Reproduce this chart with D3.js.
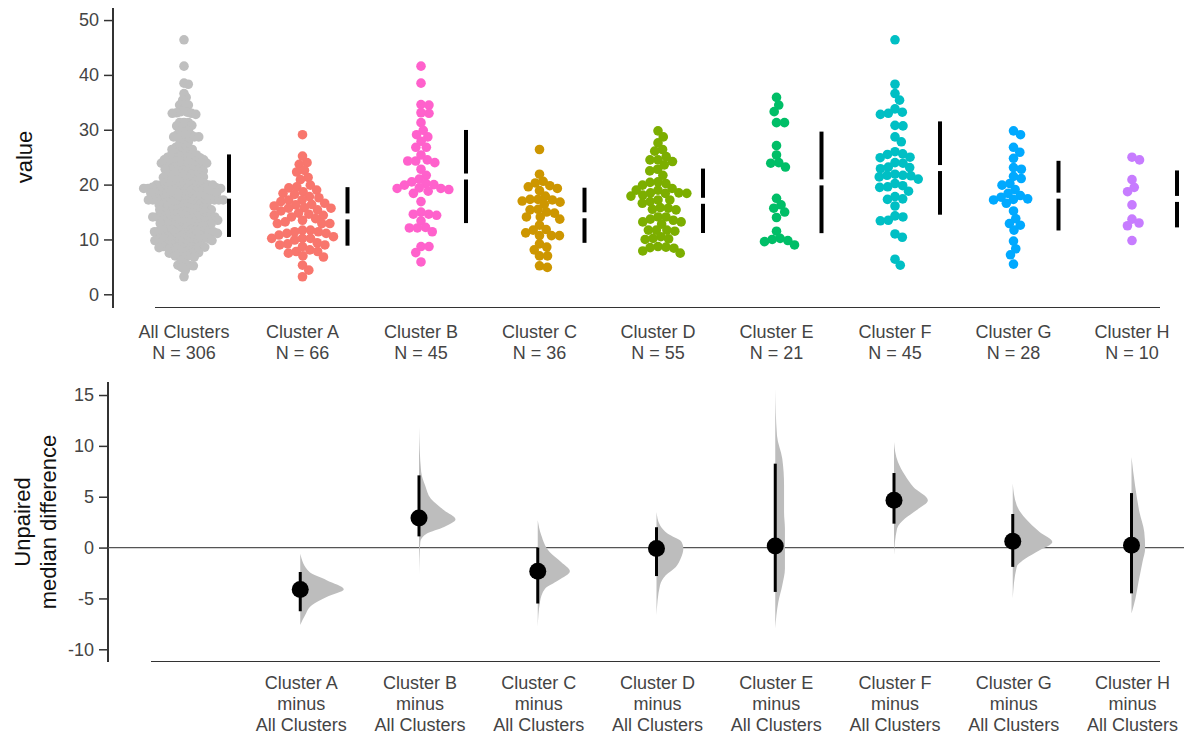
<!DOCTYPE html>
<html>
<head>
<meta charset="UTF-8">
<title>Estimation plot</title>
<script src="https://cdnjs.cloudflare.com/ajax/libs/d3/7.8.5/d3.min.js"></script>
<style>
  body { margin: 0; background: #fff; }
  svg text { font-family: "Liberation Sans", Arial, sans-serif; }
</style>
</head>
<body>
<script>
// ---- data ----
var clusterNames = ["Cluster A", "Cluster B", "Cluster C", "Cluster D", "Cluster E", "Cluster F", "Cluster G", "Cluster H"];
var controlName = "All Clusters";

var clusterA = [29.1, 25.2, 24.0, 23.7, 22.3, 22.6, 21.3, 20.9, 19.6, 19.9, 19.4, 19.0, 18.7, 18.4, 16.9, 17.2, 17.2, 16.6, 16.1, 15.7,
  15.8, 15.7, 14.4, 14.4, 12.9, 13.2, 13.5, 14.1, 12.9, 12.9, 11.1, 11.4, 11.7, 11.4, 11.1, 11.7, 10.2, 9.9, 10.2, 10.5,
  10.2, 10.8, 9.0, 8.7, 9.2, 9.0, 9.4, 7.8, 7.5, 8.1, 7.8, 7.0, 6.8, 5.3, 4.4, 3.2, 16.3, 13.8, 15.2, 16.4,
  14.6, 17.6, 17.8, 14.8, 15.4, 18.2];
var clusterB = [41.6, 38.5, 34.5, 34.6, 33.0, 33.1, 31.3, 29.9, 29.1, 28.7, 27.9, 26.8, 26.8, 25.4, 24.0, 24.3, 24.3, 24.5, 22.8, 21.7,
  20.5, 21.0, 18.8, 19.4, 19.3, 20.0, 19.1, 19.9, 19.3, 20.2, 18.4, 16.9, 14.6, 14.4, 15.0, 14.6, 13.4, 12.2, 12.1, 11.4,
  12.1, 8.7, 8.7, 7.6, 5.9];
var clusterC = [26.4, 21.9, 20.6, 20.3, 19.3, 19.8, 19.6, 18.9, 17.0, 17.9, 17.3, 16.4, 17.2, 17.3, 16.8, 15.4, 14.8, 15.5, 15.0, 14.1,
  14.1, 13.7, 12.6, 11.8, 10.7, 10.7, 10.7, 11.7, 11.2, 9.2, 8.6, 8.1, 7.0, 7.0, 5.2, 4.9];
var clusterD = [29.8, 28.7, 27.6, 26.4, 26.1, 24.5, 25.1, 24.5, 24.2, 23.6, 22.5, 22.8, 21.7, 20.2, 20.5, 20.4, 19.9, 18.4, 19.0, 18.5,
  19.3, 19.0, 18.5, 18.1, 17.2, 17.9, 18.4, 17.2, 16.6, 16.9, 15.5, 15.8, 15.7, 15.4, 14.1, 13.7, 13.5, 14.1, 12.8, 13.2,
  13.2, 11.7, 11.7, 11.5, 11.7, 10.0, 10.5, 10.2, 10.1, 8.5, 8.7, 8.4, 8.6, 7.9, 7.5];
var clusterE = [35.9, 34.5, 33.3, 31.3, 31.3, 27.1, 25.4, 23.2, 24.0, 23.9, 17.5, 15.0, 16.3, 15.7, 14.0, 11.5, 10.0, 9.6, 9.0, 10.2, 9.8];
var clusterF = [46.4, 38.3, 36.6, 35.4, 33.2, 32.8, 33.8, 33.0, 30.7, 30.8, 28.7, 27.8, 26.0, 25.6, 25.0, 24.9, 25.5, 24.0, 23.2, 23.9,
  22.9, 23.1, 21.6, 21.7, 21.7, 21.4, 21.9, 21.0, 19.8, 19.5, 20.2, 19.6, 18.8, 17.8, 17.3, 17.4, 16.1, 14.3, 13.5, 13.4,
  14.1, 11.0, 10.4, 6.4, 5.3];
var clusterG = [29.8, 29.1, 26.8, 25.9, 24.8, 22.8, 23.1, 21.5, 21.1, 19.9, 20.2, 19.1, 18.4, 17.3, 16.6, 17.7, 17.4, 17.2, 18.0, 15.2,
  13.8, 12.6, 11.7, 12.9, 9.7, 8.3, 7.2, 5.5];
var clusterH = [25.0, 24.5, 20.9, 19.5, 18.7, 16.3, 13.7, 12.5, 13.0, 9.8];

var clusterColors = ["#F8766D", "#FF61CC", "#CD9600", "#7CAE00", "#00BE67", "#00BFC4", "#00A9FF", "#C77CFF"];
var controlColor = "#bfbfbf";

// unpaired median differences (each cluster minus All Clusters) and 95% CI
var medianDiff = [-4.13, 2.9, -2.33, -0.1, 0.16, 4.65, 0.62, 0.23];
var ciLow = [-6.26, 1.1, -5.5, -2.8, -4.36, 2.35, -1.9, -4.5];
var ciHigh = [-2.4, 7.1, 0.0, 2.0, 8.25, 7.33, 3.3, 5.36];

// bootstrap distribution profiles: [difference, relative density]
var bootA = [[-0.6, 0], [-2.4, 0.21], [-3.2, 0.6], [-4.1, 0.99], [-4.85, 0.6], [-5.65, 0.27], [-6.65, 0.11], [-7.6, 0]];
var bootB = [[11.85, 0], [7.43, 0.05], [6.1, 0.14], [4.8, 0.27], [3.67, 0.57], [2.78, 0.83], [2.03, 0.57], [1.38, 0.18], [0.56, 0.03], [-2.7, 0]];
var bootC = [[2.68, 0], [1.21, 0.08], [-0.43, 0.27], [-1.41, 0.53], [-2.32, 0.73], [-3.21, 0.47], [-4.03, 0.17], [-5.34, 0.05], [-7.79, 0]];
var bootD = [[3.5, 0], [2.19, 0.08], [1.38, 0.25], [0.56, 0.57], [-0.1, 0.61], [-1.08, 0.55], [-1.9, 0.44], [-2.72, 0.21], [-3.7, 0.08], [-6.65, 0]];
var bootE = [[15.6, 0], [11.0, 0.04], [8.74, 0.16], [6.12, 0.2], [3.5, 0.2], [1.87, 0.22], [-0.1, 0.22], [-2.06, 0.22], [-3.7, 0.16], [-5.34, 0.07], [-7.96, 0]];
var bootF = [[10.38, 0], [8.42, 0.09], [7.1, 0.25], [5.96, 0.44], [4.65, 0.77], [3.67, 0.51], [2.85, 0.25], [1.87, 0.07], [-0.75, 0]];
var bootG = [[6.29, 0], [4.16, 0.09], [2.85, 0.29], [1.54, 0.61], [0.56, 0.9], [-0.26, 0.61], [-1.08, 0.29], [-1.9, 0.09], [-5.0, 0]];
var bootH = [[8.9, 0], [6.12, 0.08], [3.5, 0.18], [1.54, 0.29], [-0.1, 0.31], [-1.41, 0.25], [-3.37, 0.16], [-5.0, 0.09], [-6.48, 0]];

var valueTicks = [0, 10, 20, 30, 40, 50];
var diffTicks = [-10, -5, 0, 5, 10, 15];

// ---- build ----
var clusters = [clusterA, clusterB, clusterC, clusterD, clusterE, clusterF, clusterG, clusterH];
var boots = [bootA, bootB, bootC, bootD, bootE, bootF, bootG, bootH];
var allValues = d3.merge(clusters);
var groupNames = [controlName].concat(clusterNames);
var groupValues = [allValues].concat(clusters);
var groupColors = [controlColor].concat(clusterColors);

var width = 1184, height = 736;
var svg = d3.select("body").append("svg")
  .attr("width", width)
  .attr("height", height);

var textColor = "#444";
var axisColor = "#333";
var plain = function (d) { return String(d); };

// top panel scales
var x = d3.scalePoint().domain(groupNames).range([184, 1132]);
var y = d3.scaleLinear().domain([-2.5, 52.2]).range([308, 8]);

// beeswarm: place points (sorted by value) as close to the centre as possible
function swarm(values, cx, d) {
  var pts = values.map(function (v) { return {v: v, y: y(v)}; })
    .sort(function (a, b) { return a.y - b.y; });
  var placed = [];
  pts.forEach(function (p) {
    var near = placed.filter(function (q) { return Math.abs(q.y - p.y) < d; });
    var cands = [0];
    near.forEach(function (q) {
      var dy = q.y - p.y;
      var dx = Math.sqrt(d * d - dy * dy);
      cands.push(q.dx + dx, q.dx - dx);
    });
    cands.sort(function (a, b) { return Math.abs(a) - Math.abs(b); });
    for (var i = 0; i < cands.length; i++) {
      var c = cands[i];
      var ok = near.every(function (q) {
        return (q.dx - c) * (q.dx - c) + (q.y - p.y) * (q.y - p.y) >= d * d - 0.01;
      });
      if (ok) { p.dx = c; break; }
    }
    placed.push(p);
  });
  pts.forEach(function (p) { p.x = cx + p.dx; });
  return pts;
}

// y axis (top)
var yAxis = d3.axisLeft(y).tickValues(valueTicks).tickFormat(plain).tickSize(9).tickPadding(5);
var gy = svg.append("g").attr("transform", "translate(113,0)").call(yAxis);
gy.select(".domain").attr("stroke", axisColor).attr("stroke-width", 2)
  .attr("d", "M0," + y.range()[1] + "V" + y.range()[0]);
gy.selectAll(".tick line").attr("stroke", axisColor).attr("stroke-width", 1.5);
gy.selectAll(".tick text").attr("fill", textColor).style("font-size", "18px");

svg.append("text")
  .attr("transform", "translate(32,157) rotate(-90)")
  .attr("text-anchor", "middle")
  .attr("fill", "#111")
  .style("font-size", "22px")
  .text("value");

// x baseline (top)
svg.append("line")
  .attr("x1", 155).attr("x2", 1160)
  .attr("y1", 307.5).attr("y2", 307.5)
  .attr("stroke", axisColor).attr("stroke-width", 1.2);

// swarms
groupNames.forEach(function (name, i) {
  var d = i === 0 ? 4.4 : 8;
  var pts = swarm(groupValues[i], x(name), d);
  svg.append("g").selectAll("circle")
    .data(pts)
    .enter()
    .append("circle")
    .attr("cx", function (p) { return p.x; })
    .attr("cy", function (p) { return p.y; })
    .attr("r", 4.8)
    .attr("fill", groupColors[i]);

  // mean +/- sd with a gap at the mean
  var m = d3.mean(groupValues[i]);
  var sd = d3.deviation(groupValues[i]);
  var bx = x(name) + 45;
  var gap = 3;
  svg.append("line")
    .attr("x1", bx).attr("x2", bx)
    .attr("y1", y(m + sd)).attr("y2", y(m) - gap)
    .attr("stroke", "#000").attr("stroke-width", 4);
  svg.append("line")
    .attr("x1", bx).attr("x2", bx)
    .attr("y1", y(m) + gap).attr("y2", y(m - sd))
    .attr("stroke", "#000").attr("stroke-width", 4);

  // tick labels
  var lab = svg.append("text")
    .attr("text-anchor", "middle")
    .attr("fill", textColor)
    .style("font-size", "18px");
  lab.append("tspan").attr("x", x(name)).attr("y", 338).text(name);
  lab.append("tspan").attr("x", x(name)).attr("y", 359).text("N = " + groupValues[i].length);
});

// bottom panel
var x2 = d3.scalePoint().domain(groupNames).range([181.5, 1131.5]);
var y2 = d3.scaleLinear().domain([-11.25, 16.28]).range([662, 382]);
var w = d3.scaleLinear().domain([0, 1]).range([0, 44]);

var yAxis2 = d3.axisLeft(y2).tickValues(diffTicks).tickFormat(plain).tickSize(9).tickPadding(5);
var gy2 = svg.append("g").attr("transform", "translate(108,0)").call(yAxis2);
gy2.select(".domain").attr("stroke", axisColor).attr("stroke-width", 2)
  .attr("d", "M0," + y2.range()[1] + "V" + y2.range()[0]);
gy2.selectAll(".tick line").attr("stroke", axisColor).attr("stroke-width", 1.5);
gy2.selectAll(".tick text").attr("fill", textColor).style("font-size", "18px");

var title2 = svg.append("text")
  .attr("transform", "translate(0,522) rotate(-90)")
  .attr("text-anchor", "middle")
  .attr("fill", "#111")
  .style("font-size", "22px");
title2.append("tspan").attr("x", 0).attr("y", 30).text("Unpaired");
title2.append("tspan").attr("x", 0).attr("y", 56).text("median difference");

// zero reference line
svg.append("line")
  .attr("x1", 108).attr("x2", width)
  .attr("y1", y2(0)).attr("y2", y2(0))
  .attr("stroke", "#555").attr("stroke-width", 1.2);

svg.append("line")
  .attr("x1", 151).attr("x2", 1160)
  .attr("y1", 661.5).attr("y2", 661.5)
  .attr("stroke", axisColor).attr("stroke-width", 1.2);

var area = d3.area()
  .curve(d3.curveMonotoneY);

clusterNames.forEach(function (name, i) {
  var cx = x2(name);
  area.x0(cx)
    .x1(function (p) { return cx + w(p[1]); })
    .y(function (p) { return y2(p[0]); });
  svg.append("path")
    .attr("d", area(boots[i]))
    .attr("fill", "#bdbdbd");

  svg.append("line")
    .attr("x1", cx).attr("x2", cx)
    .attr("y1", y2(ciHigh[i])).attr("y2", y2(ciLow[i]))
    .attr("stroke", "#000").attr("stroke-width", 3);

  svg.append("circle")
    .attr("cx", cx)
    .attr("cy", y2(medianDiff[i]))
    .attr("r", 8.5)
    .attr("fill", "#000");

  var lab = svg.append("text")
    .attr("text-anchor", "middle")
    .attr("fill", textColor)
    .style("font-size", "18px");
  lab.append("tspan").attr("x", x2(name) + 1).attr("y", 689).text(name);
  lab.append("tspan").attr("x", x2(name) + 1).attr("y", 710).text("minus");
  lab.append("tspan").attr("x", x2(name) + 1).attr("y", 731).text(controlName);
});
</script>
</body>
</html>
